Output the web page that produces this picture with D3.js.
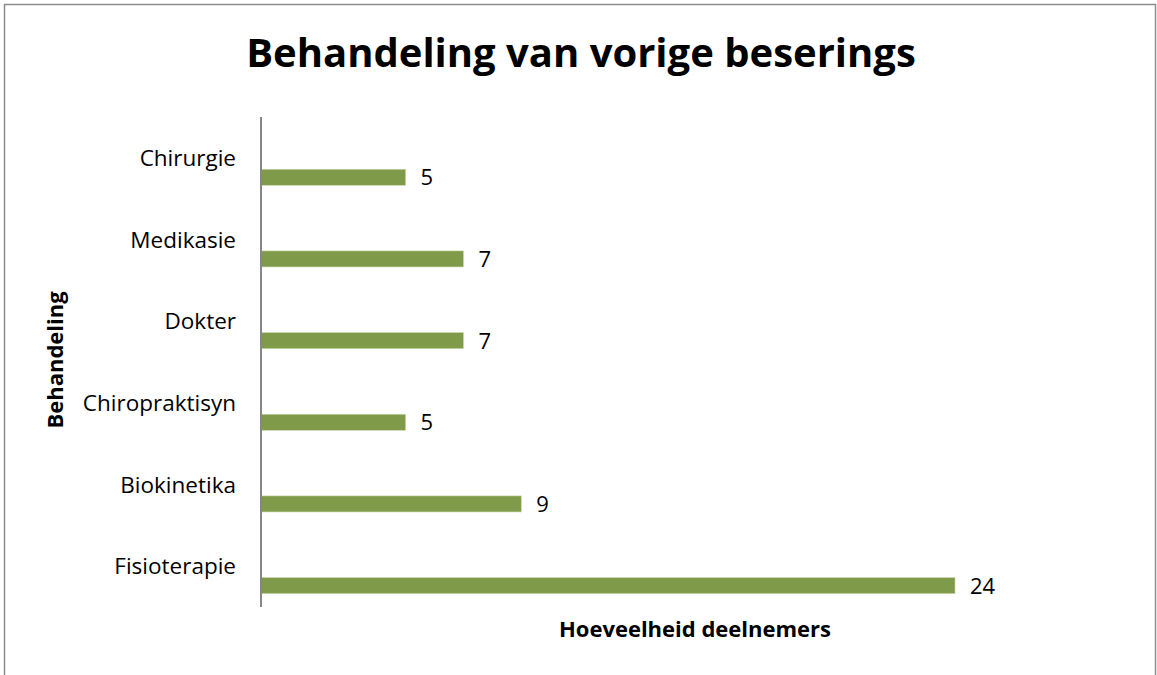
<!DOCTYPE html>
<html>
<head>
<meta charset="utf-8">
<script src="https://cdn.jsdelivr.net/npm/d3@7"></script>
<style>
  body { margin: 0; background: #fff; }
  text { font-family: "Open Sans", "Noto Sans", sans-serif; fill: #000; }
</style>
</head>
<body>
<div id="chart"></div>
<script>
// data
const categories = ["Chirurgie", "Medikasie", "Dokter", "Chiropraktisyn", "Biokinetika", "Fisioterapie"];
const counts = [5, 7, 7, 5, 9, 24];
const chartTitle = "Behandeling van vorige beserings";
const xTitle = "Hoeveelheid deelnemers";
const yTitle = "Behandeling";

const W = 1157, H = 675;
const margin = { top: 117, right: 202, bottom: 68, left: 261 };
const width = W - margin.left - margin.right;
const height = H - margin.top - margin.bottom;

const svg = d3.select("#chart").append("svg")
  .attr("width", W)
  .attr("height", H);

// chart frame
svg.append("rect")
  .attr("x", 4.5).attr("y", 4.5)
  .attr("width", W - 6).attr("height", H + 10)
  .attr("fill", "none")
  .attr("stroke", "#8c8c8c")
  .attr("stroke-width", 1.5);

svg.append("text")
  .attr("x", 581).attr("y", 67)
  .attr("text-anchor", "middle")
  .style("font-size", "40px")
  .style("font-weight", "bold")
  .text(chartTitle);

const g = svg.append("g")
  .attr("transform", `translate(${margin.left},${margin.top})`);

const y = d3.scaleBand()
  .domain(categories)
  .range([0, height])
  .paddingInner(0);

// x scale: 24 reaches ~694px
const x = d3.scaleLinear()
  .domain([0, 24])
  .range([0, 694]);

// bars sit in the lower part of each band (empty series above)
const barOffset = y.bandwidth() * 0.64;
const barH = y.bandwidth() * 0.196;

g.selectAll(".bar")
  .data(categories)
  .enter()
  .append("rect")
  .attr("class", "bar")
  .attr("x", 0)
  .attr("y", d => y(d) + barOffset)
  .attr("width", (d, i) => x(counts[i]))
  .attr("height", barH)
  .attr("fill", "#7f9a48")
  .attr("stroke", "#c5d6a8")
  .attr("stroke-width", 0.6);

g.selectAll(".val")
  .data(categories)
  .enter()
  .append("text")
  .attr("class", "val")
  .attr("x", (d, i) => x(counts[i]) + 15)
  .attr("y", d => y(d) + barOffset + barH / 2)
  .attr("dy", "0.36em")
  .style("font-size", "22px")
  .text((d, i) => counts[i]);

// category labels, centred on each band
g.selectAll(".cat")
  .data(categories)
  .enter()
  .append("text")
  .attr("class", "cat")
  .attr("x", -25)
  .attr("y", d => y(d) + y.bandwidth() / 2)
  .attr("dy", "0.36em")
  .attr("text-anchor", "end")
  .style("font-size", "22.5px")
  .text(d => d);

// vertical axis line
g.append("line")
  .attr("x1", 0).attr("x2", 0)
  .attr("y1", 0).attr("y2", height)
  .attr("stroke", "#868686")
  .attr("stroke-width", 2);

svg.append("text")
  .attr("x", 695).attr("y", 637)
  .attr("text-anchor", "middle")
  .style("font-size", "22px")
  .style("font-weight", "bold")
  .text(xTitle);

svg.append("text")
  .attr("transform", "translate(63,360) rotate(-90)")
  .attr("text-anchor", "middle")
  .style("font-size", "22px")
  .style("font-weight", "bold")
  .text(yTitle);
</script>
</body>
</html>
